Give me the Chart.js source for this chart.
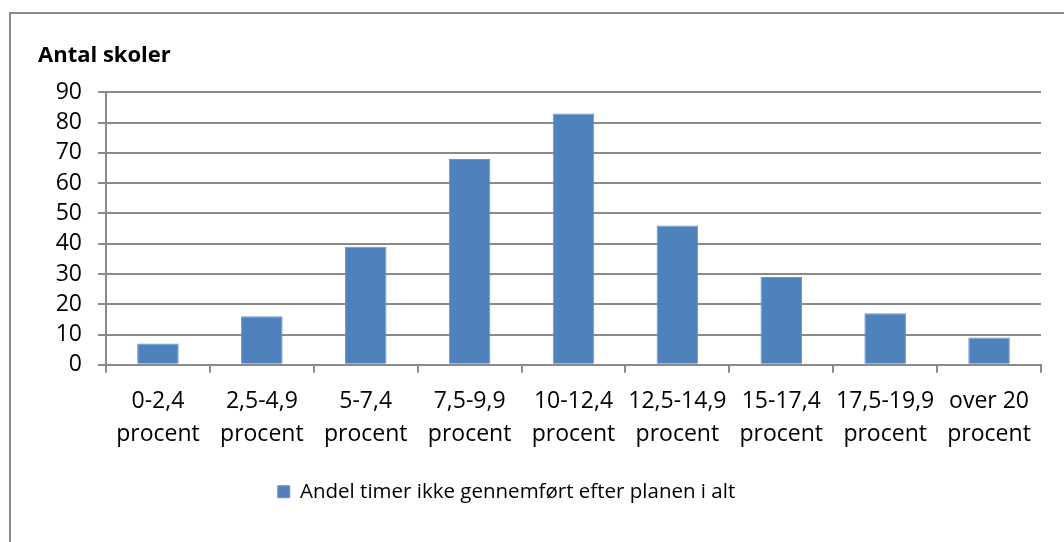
<!DOCTYPE html>
<html>
<head>
<meta charset="utf-8">
<script src="https://cdn.jsdelivr.net/npm/chart.js@4"></script>
<style>
  html, body { margin: 0; padding: 0; background: #fff; }
  #wrap { position: relative; width: 1064px; height: 542px; overflow: hidden; }
  #frame { position: absolute; left: 9px; top: 12px; width: 1100px; height: 600px;
           border: 2px solid #8a8a8a; box-sizing: border-box; }
  #box { position: absolute; left: 0; top: 0; width: 1064px; height: 542px; }
</style>
</head>
<body>
<div id="wrap">
  <div id="frame"></div>
  <div id="box"><canvas id="c"></canvas></div>
</div>
<script>
// categories (two-line tick labels)
var categories = [
  ['0-2,4', 'procent'],
  ['2,5-4,9', 'procent'],
  ['5-7,4', 'procent'],
  ['7,5-9,9', 'procent'],
  ['10-12,4', 'procent'],
  ['12,5-14,9', 'procent'],
  ['15-17,4', 'procent'],
  ['17,5-19,9', 'procent'],
  ['over 20', 'procent']
];
var seriesName = 'Andel timer ikke gennemført efter planen i alt';
var schools = [7, 16, 39, 68, 83, 46, 29, 17, 9];
var yTitle = 'Antal skoler';

var FONT = "'Open Sans', 'Noto Sans', sans-serif";
var GRID = '#8a8a8a';
var BLUE = '#4f81bd';

// nudge the legend left so it sits where the original one does
var legendShift = {
  id: 'legendShift',
  afterLayout: function (chart) {
    if (!chart.legend) return;
    chart.legend.left -= 33;
    chart.legend.right -= 33;
  }
};

new Chart(document.getElementById('c'), {
  type: 'bar',
  data: {
    labels: categories,
    datasets: [{
      label: seriesName,
      data: schools,
      backgroundColor: BLUE,
      borderColor: '#6a94c8',
      borderWidth: 1,
      barPercentage: 0.8,
      categoryPercentage: 0.5
    }]
  },
  plugins: [legendShift],
  options: {
    responsive: true,
    maintainAspectRatio: false,
    animation: false,
    layout: { padding: { left: 38, right: 23, top: 43, bottom: 30 } },
    plugins: {
      title: {
        display: true, text: yTitle, align: 'start', color: '#000',
        font: { family: FONT, size: 22, weight: 'bold', lineHeight: 1.15 },
        padding: { top: 0, bottom: 24 }
      },
      legend: {
        position: 'bottom',
        labels: {
          color: '#000', boxWidth: 12, boxHeight: 12, padding: 18,
          font: { family: FONT, size: 20.5 }
        }
      },
      tooltip: { enabled: false }
    },
    scales: {
      x: {
        grid: { offset: true, drawOnChartArea: false, color: GRID, tickLength: 8, lineWidth: 2 },
        border: { color: GRID, width: 2 },
        ticks: { color: '#000', padding: 12, maxRotation: 0, autoSkip: false,
                 font: { family: FONT, size: 23, lineHeight: 1.45 } }
      },
      y: {
        min: 0, max: 90,
        afterFit: function (s) { s.width = 68; },
        grid: { color: GRID, tickLength: 8, lineWidth: 2 },
        border: { color: GRID, width: 2 },
        ticks: { stepSize: 10, autoSkip: false, color: '#000', padding: 16,
                 font: { family: FONT, size: 23 } }
      }
    }
  }
});
</script>
</body>
</html>
